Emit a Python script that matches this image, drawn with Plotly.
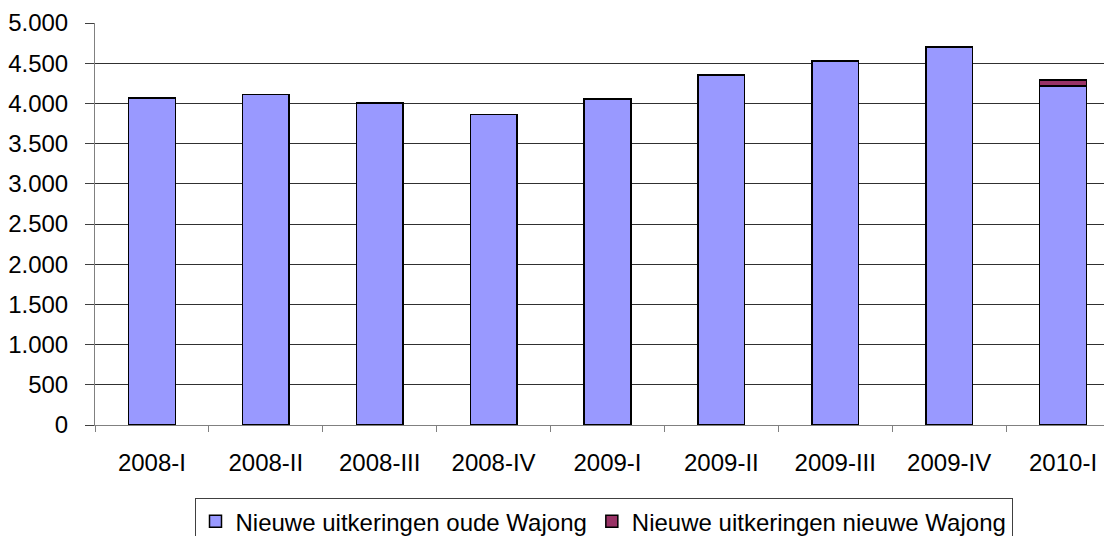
import plotly.graph_objects as go

# quarters and new Wajong benefits
kwartalen = ['2008-I', '2008-II', '2008-III', '2008-IV', '2009-I',
             '2009-II', '2009-III', '2009-IV', '2010-I']
oude_wajong = [4070, 4110, 4005, 3860, 4055, 4355, 4525, 4700, 4218]
nieuwe_wajong = [0, 0, 0, 0, 0, 0, 0, 0, 75]

y_ticks = [0, 500, 1000, 1500, 2000, 2500, 3000, 3500, 4000, 4500, 5000]
y_labels = ['0', '500', '1.000', '1.500', '2.000', '2.500', '3.000',
            '3.500', '4.000', '4.500', '5.000']

fig = go.Figure()
fig.add_trace(go.Bar(x=kwartalen, y=oude_wajong,
                     name='Nieuwe uitkeringen oude Wajong',
                     marker=dict(color='#9999FF', line=dict(color='black', width=1.5))))
fig.add_trace(go.Bar(x=kwartalen, y=nieuwe_wajong,
                     name='Nieuwe uitkeringen nieuwe Wajong',
                     marker=dict(color='#993366', line=dict(color='black', width=1.5))))

# page body has an 8px margin, so the figure is 8px smaller than the window
fig.update_layout(
    barmode='stack',
    bargap=0.59,
    width=1104, height=528,
    margin=dict(l=87, r=0, t=15, b=111, autoexpand=False),
    plot_bgcolor='white', paper_bgcolor='white',
    font=dict(family='Liberation Sans, Arial', size=24, color='black'),
    legend=dict(orientation='h', xanchor='center', x=0.5,
                yanchor='top', y=-0.182,
                bordercolor='#404040', borderwidth=1,
                font=dict(size=24), traceorder='normal',
                itemwidth=30, tracegroupgap=0),
    showlegend=True,
)
fig.update_xaxes(type='category', range=[-0.5, 8.43], automargin=False,
                 showline=True, linecolor='#808080', linewidth=1,
                 ticks='outside', tickson='boundaries', ticklen=6, tickcolor='#808080',
                 ticklabelstandoff=16, showgrid=False)
fig.update_yaxes(range=[0, 5000], tickvals=y_ticks, ticktext=y_labels, automargin=False,
                 showline=True, linecolor='#808080', linewidth=1,
                 ticks='outside', ticklen=9, tickcolor='#404040',
                 ticklabelstandoff=12,
                 showgrid=True, gridcolor='#303030', gridwidth=1, zeroline=False)

fig.write_html('out.html')
